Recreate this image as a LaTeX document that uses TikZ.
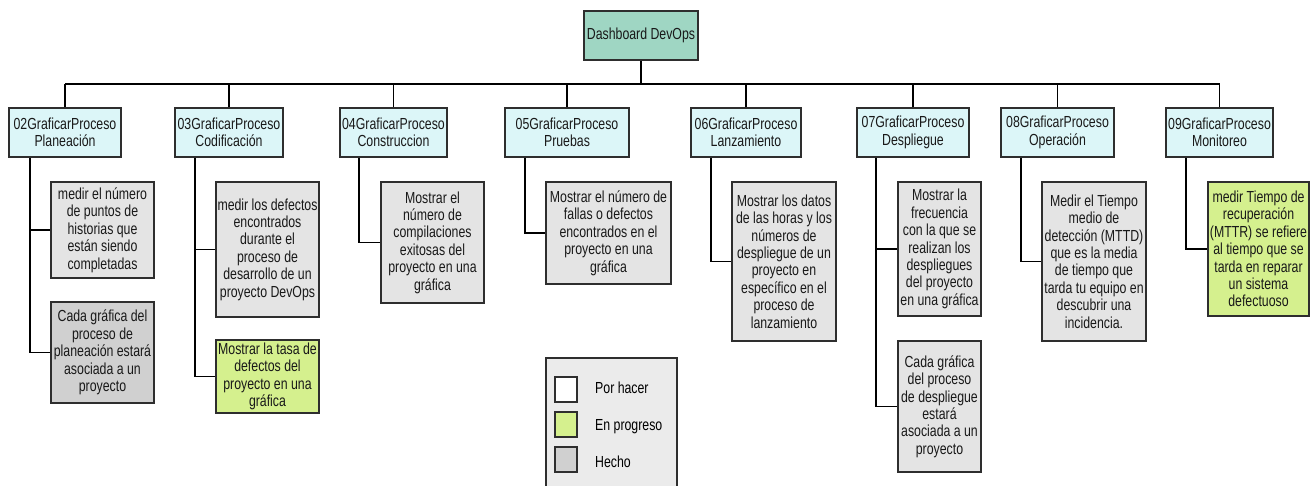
\documentclass[tikz,border=0pt]{standalone}
\usepackage{fontspec}
\setmainfont{Liberation Sans}[FakeStretch=0.77]
\definecolor{rootfill}{HTML}{9FD6C3}
\definecolor{procfill}{HTML}{DCF6F8}
\definecolor{taskfill}{HTML}{E4E4E4}
\definecolor{donefill}{HTML}{D0D0D0}
\definecolor{progfill}{HTML}{D5F08E}
\definecolor{legfill}{HTML}{EBEBEB}
\definecolor{edgecol}{HTML}{2E2E2E}
\tikzset{
  base/.style={draw=edgecol, line width=1.6pt, align=center, inner xsep=1pt, inner ysep=0pt,
    font=\fontsize{16}{17.4}\selectfont, text=black!90},
  rootbox/.style={base, fill=rootfill},
  procbox/.style={base, fill=procfill},
  taskbox/.style={base, fill=taskfill},
  donebox/.style={base, fill=donefill},
  progbox/.style={base, fill=progfill},
  conn/.style={draw=black, line width=1.6pt},
  swatch/.style={draw=edgecol, line width=1.3pt, minimum width=22pt, minimum height=25pt, inner sep=0pt},
  legtext/.style={anchor=west, font=\fontsize{16}{17.4}\selectfont, inner sep=0pt}
}
\begin{document}
\begin{tikzpicture}[x=1pt,y=-1pt]
\useasboundingbox (0,0) rectangle (1315,485);
% root
\node[rootbox, minimum width=114pt, minimum height=49pt] (root) at (641,35.5) {Dashboard DevOps};
% process boxes
\node[procbox, minimum width=112pt, minimum height=49pt] (p02) at (65,132.5) {02GraficarProceso\\Planeación};
\node[procbox, minimum width=108pt, minimum height=49pt] (p03) at (229,132.5) {03GraficarProceso\\Codificación};
\node[procbox, minimum width=107pt, minimum height=49pt] (p04) at (393.5,132.5) {04GraficarProceso\\Construccion};
\node[procbox, minimum width=124pt, minimum height=49pt] (p05) at (567,132.5) {05GraficarProceso\\Pruebas};
\node[procbox, minimum width=110pt, minimum height=49pt] (p06) at (746,132.5) {06GraficarProceso\\Lanzamiento};
\node[procbox, minimum width=112pt, minimum height=49pt] (p07) at (913,132.5) {07GraficarProceso\\Despliegue};
\node[procbox, minimum width=113pt, minimum height=49pt] (p08) at (1057.5,132.5) {08GraficarProceso\\Operación};
\node[procbox, minimum width=107pt, minimum height=49pt] (p09) at (1219.5,132.5) {09GraficarProceso\\Monitoreo};
% tasks
\node[taskbox, minimum width=103pt, minimum height=96pt] (c02a) at (102.5,230) {medir el número\\de puntos de\\historias que\\están siendo\\completadas};
\node[donebox, minimum width=103pt, minimum height=101pt] (c02b) at (102.5,352.5) {Cada gráfica del\\proceso de\\planeación estará\\asociada a un\\proyecto};
\node[taskbox, minimum width=103pt, minimum height=135pt] (c03a) at (267.5,249.5) {medir los defectos\\encontrados\\durante el\\proceso de\\desarrollo de un\\proyecto DevOps};
\node[progbox, minimum width=103pt, minimum height=73pt] (c03b) at (267.5,376.5) {Mostrar la tasa de\\defectos del\\proyecto en una\\gráfica};
\node[taskbox, minimum width=103pt, minimum height=121pt] (c04a) at (432.5,242.5) {Mostrar el\\número de\\compilaciones\\exitosas del\\proyecto en una\\gráfica};
\node[taskbox, minimum width=125pt, minimum height=102pt] (c05a) at (608.5,233) {Mostrar el número de\\fallas o defectos\\encontrados en el\\proyecto en una\\gráfica};
\node[taskbox, minimum width=104pt, minimum height=159pt] (c06a) at (784,261.5) {Mostrar los datos\\de las horas y los\\números de\\despliegue de un\\proyecto en\\específico en el\\proceso de\\lanzamiento};
\node[taskbox, minimum width=83pt, minimum height=134pt] (c07a) at (939.5,249) {Mostrar la\\frecuencia\\con la que se\\realizan los\\despliegues\\del proyecto\\en una gráfica};
\node[taskbox, minimum width=83pt, minimum height=131pt] (c07b) at (939.5,406.5) {Cada gráfica\\del proceso\\de despliegue\\estará\\asociada a un\\proyecto};
\node[taskbox, minimum width=104pt, minimum height=159pt] (c08a) at (1094,261.5) {Medir el Tiempo\\medio de\\detección (MTTD)\\que es la media\\de tiempo que\\tarda tu equipo en\\descubrir una\\incidencia.};
\node[progbox, minimum width=101pt, minimum height=134pt] (c09a) at (1258.5,249) {medir Tiempo de\\recuperación\\(MTTR) se refiere\\al tiempo que se\\tarda en reparar\\un sistema\\defectuoso};
% bus
\coordinate (bus) at (641,84);
\draw[conn] (root.south) -- (bus);
\draw[conn] (p02.north |- bus) -- (p09.north |- bus);
\foreach \p in {p02,p03,p04,p05,p06,p07,p08,p09}{
  \draw[conn] (\p.north) -- (\p.north |- bus);
}
% child connectors
\draw[conn] ([xshift=22pt]p02.south west) |- (c02b.west);
\draw[conn] ([xshift=22pt]p02.south west |- c02a.west) -- (c02a.west);
\draw[conn] ([xshift=21pt]p03.south west) |- (c03b.west);
\draw[conn] ([xshift=21pt]p03.south west |- c03a.west) -- (c03a.west);
\draw[conn] ([xshift=20pt]p04.south west) |- (c04a.west);
\draw[conn] ([xshift=21pt]p05.south west) |- (c05a.west);
\draw[conn] ([xshift=21pt]p06.south west) |- (c06a.west);
\draw[conn] ([xshift=20pt]p07.south west) |- (c07b.west);
\draw[conn] ([xshift=20pt]p07.south west |- c07a.west) -- (c07a.west);
\draw[conn] ([xshift=21pt]p08.south west) |- (c08a.west);
\draw[conn] ([xshift=21pt]p09.south west) |- (c09a.west);
% legend
\fill[legfill] (546,358) rectangle (677,486);
\draw[edgecol, line width=1.6pt] (546,488) -- (546,358) -- (677,358) -- (677,488);
\node[swatch, fill=white] (s1) at (566,389.5) {};
\node[swatch, fill=progfill] (s2) at (566,424.5) {};
\node[swatch, fill=donefill] (s3) at (566,459.5) {};
\node[legtext] (l1) at (595,388) {Por hacer};
\node[legtext] (l2) at (595,427) {En progreso};
\node[legtext] (l3) at (595,462) {Hecho};
\end{tikzpicture}
\end{document}
